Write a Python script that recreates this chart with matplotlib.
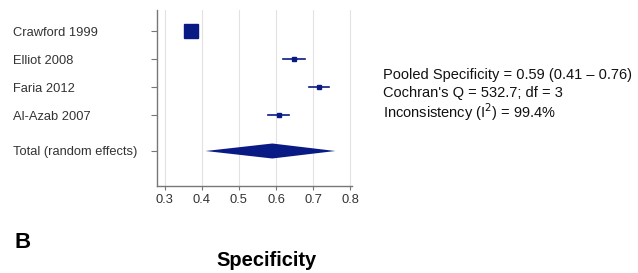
import numpy as np
import matplotlib.pyplot as plt

plt.rcParams['font.family'] = ['Liberation Sans', 'DejaVu Sans']

studies = ["Crawford 1999", "Elliot 2008", "Faria 2012", "Al-Azab 2007"]
spec = [0.370, 0.648, 0.716, 0.607]
ci_low = [0.358, 0.618, 0.688, 0.578]
ci_high = [0.382, 0.678, 0.744, 0.636]
weights = [14, 5, 5, 5]  # marker size in px-ish

pooled = 0.59
pooled_low = 0.41
pooled_high = 0.76
ticks = [0.3, 0.4, 0.5, 0.6, 0.7, 0.8]

navy = '#0a1a85'

fig = plt.figure(figsize=(6.38, 2.73), dpi=100)
ax = fig.add_axes([157 / 638, 1 - 186 / 273, (352 - 157) / 638, (186 - 10) / 273])

ypos = [4, 3, 2, 1]
y_total = 1 - 36 / 28

for y, m, lo, hi, w in zip(ypos, spec, ci_low, ci_high, weights):
    ax.plot([lo, hi], [y, y], color=navy, lw=1.2, zorder=3)
    ax.plot(m, y, marker='s', ms=w * 0.72, color=navy, mec=navy, zorder=4)

dh = 7.5 / 28
ax.fill([pooled_low, pooled, pooled_high, pooled],
        [y_total, y_total + dh, y_total, y_total - dh],
        color=navy, lw=0, zorder=3)

ax.set_xlim(0.279, 0.805)
ax.set_ylim(1 - 71 / 28, 4.75)
ax.set_xticks(ticks)
ax.set_xticklabels([f"{t:.1f}" for t in ticks])
ax.set_yticks(ypos + [y_total])
ax.set_yticklabels(studies + ["Total (random effects)"], ha='left')
ax.tick_params(axis='y', length=4, width=0.8, color='#777777', pad=100, labelsize=9.3, labelcolor='#333333')
ax.tick_params(axis='x', length=3, width=0.8, color='#777777', labelsize=9.3, labelcolor='#333333', pad=3)
ax.xaxis.grid(True, color='#e2e2e2', lw=0.8)
ax.set_axisbelow(True)
for s in ['top', 'right']:
    ax.spines[s].set_visible(False)
for s in ['left', 'bottom']:
    ax.spines[s].set_color('#777777')
    ax.spines[s].set_linewidth(1.0)

stats = ["Pooled Specificity = 0.59 (0.41 \u2013 0.76)",
         "Cochran's Q = 532.7; df = 3",
         "Inconsistency (I$^2$) = 99.4%"]
for i, s in enumerate(stats):
    fig.text(383 / 638, 1 - (75 + i * 18.5) / 273, s, fontsize=10.5, va='center', ha='left', color='#111111')

fig.text(15 / 638, 1 - 243 / 273, "B", fontsize=16, fontweight='bold', va='center', ha='left')
fig.text(267 / 638, 1 - 260 / 273, "Specificity", fontsize=14.5, fontweight='bold', va='center', ha='center')

fig.savefig("out.png", dpi=100)
